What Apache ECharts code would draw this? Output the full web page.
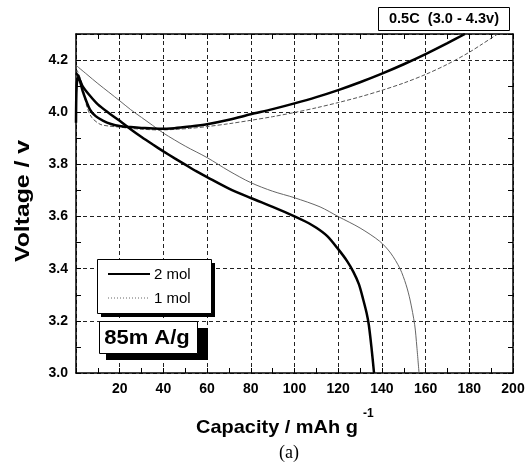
<!DOCTYPE html>
<html>
<head>
<meta charset="utf-8" />
<script src="https://cdn.jsdelivr.net/npm/echarts@6/dist/echarts.min.js"></script>
<style>
  html, body { margin: 0; padding: 0; background: #fff; }
  #chart { width: 528px; height: 468px; }
</style>
</head>
<body>
<div id="chart"></div>
<script>
// capacity (mAh/g) and voltage (V)
const charge2Cap = [0, 0.3, 1, 3.3, 6.4, 9, 12.5, 16, 20, 25, 30, 38, 45, 52, 60, 70, 80, 90, 100, 110, 120, 130, 140, 150, 160, 170, 178];
const charge2V = [3.96, 4.10, 4.135, 4.075, 4.01, 3.985, 3.967, 3.955, 3.947, 3.943, 3.94, 3.937, 3.939, 3.945, 3.954, 3.971, 3.992, 4.012, 4.034, 4.058, 4.085, 4.115, 4.148, 4.184, 4.223, 4.265, 4.30];

const charge1Cap = [0, 0.5, 2.6, 4.9, 7.2, 11, 15, 20, 25, 30, 38, 45, 52, 60, 70, 80, 90, 100, 110, 120, 130, 140, 150, 160, 170, 180, 186, 193];
const charge1V = [3.97, 4.16, 4.114, 4.024, 3.98, 3.954, 3.947, 3.943, 3.938, 3.935, 3.932, 3.934, 3.938, 3.945, 3.956, 3.969, 3.983, 3.999, 4.017, 4.037, 4.059, 4.084, 4.112, 4.145, 4.184, 4.23, 4.262, 4.30];

const discharge2Cap = [0, 1, 3, 6.4, 10, 15, 20, 25, 30, 35, 40, 45, 50, 55, 60, 70, 80, 90, 100, 105, 110, 115, 120, 124, 127, 129.5, 131.5, 133, 134, 135.2, 136.4];
const discharge2V = [4.15, 4.14, 4.10, 4.063, 4.03, 3.997, 3.967, 3.935, 3.905, 3.877, 3.85, 3.824, 3.799, 3.774, 3.751, 3.707, 3.671, 3.637, 3.601, 3.581, 3.557, 3.525, 3.475, 3.43, 3.387, 3.34, 3.28, 3.23, 3.185, 3.10, 3.0];

const discharge1Cap = [0, 5, 10, 15, 20, 25, 30, 35, 40, 50, 60, 70, 80, 90, 100, 111.7, 120, 130, 139, 144, 148.3, 151, 152.9, 155, 156, 157];
const discharge1V = [4.18, 4.145, 4.11, 4.077, 4.044, 4.01, 3.98, 3.95, 3.92, 3.87, 3.826, 3.775, 3.73, 3.697, 3.672, 3.637, 3.600, 3.556, 3.505, 3.46, 3.40, 3.34, 3.28, 3.185, 3.1, 3.0];

const legendNames = ["2 mol", "1 mol"];

function pairs(xs, ys) {
  return xs.map((x, i) => [x, ys[i]]);
}

const font = "Liberation Sans";
const chart = echarts.init(document.getElementById("chart"));

// shared look for the frame axes (ticks point inward)
function frameAxis(extra) {
  return Object.assign({
    type: "value",
    axisLine: { show: true, onZero: false, lineStyle: { color: "#000", width: 1.5 } },
    axisTick: { show: true, inside: true, length: 5, lineStyle: { color: "#000" } },
    minorTick: { show: true, splitNumber: 2, length: 5, lineStyle: { color: "#000" } },
    splitLine: { show: false },
    axisLabel: { show: false },
  }, extra);
}

const gridLine = { show: true, lineStyle: { color: "#222", width: 1, type: [4, 3] } };

function curve(name, xs, ys, lineStyle) {
  return {
    name: name, type: "line", showSymbol: false, smooth: 0.3,
    data: pairs(xs, ys),
    lineStyle: lineStyle,
  };
}

chart.setOption({
  animation: false,
  backgroundColor: "#fff",
  grid: { left: 76, right: 15, top: 34, bottom: 95 },
  xAxis: [
    frameAxis({
      position: "bottom", min: 0, max: 200, interval: 20,
      splitLine: gridLine,
      axisLabel: {
        show: true, showMinLabel: false, margin: 9,
        color: "#000", fontFamily: font, fontWeight: "bold", fontSize: 14,
      },
    }),
    frameAxis({ position: "top", min: 0, max: 200, interval: 20 }),
  ],
  yAxis: [
    frameAxis({
      position: "left", min: 3.0, max: 4.3, interval: 0.2,
      splitLine: gridLine,
      axisLabel: {
        show: true, showMaxLabel: false, margin: 8,
        color: "#000", fontFamily: font, fontWeight: "bold", fontSize: 14,
        formatter: (v) => v.toFixed(1),
      },
    }),
    frameAxis({ position: "right", min: 3.0, max: 4.3, interval: 0.2 }),
  ],
  series: [
    curve(legendNames[1], discharge1Cap, discharge1V, { color: "#666", width: 1 }),
    curve(legendNames[1], charge1Cap, charge1V, { color: "#555", width: 1, type: [4, 2] }),
    curve(legendNames[0], discharge2Cap, discharge2V, { color: "#000", width: 2.5 }),
    curve(legendNames[0], charge2Cap, charge2V, { color: "#000", width: 2.5 }),
  ],
  graphic: [
    // axis titles
    {
      type: "text", x: 277, y: 428, scaleX: 1.05,
      style: { text: "Capacity / mAh g", fontFamily: font, fontWeight: "bold", fontSize: 19, fill: "#000", align: "center", verticalAlign: "middle" },
    },
    {
      type: "text", x: 363, y: 414,
      style: { text: "-1", fontFamily: font, fontWeight: "bold", fontSize: 12, fill: "#000", align: "left", verticalAlign: "middle" },
    },
    {
      type: "text", x: 289, y: 453,
      style: { text: "(a)", fontFamily: "Liberation Serif", fontSize: 18, fill: "#000", align: "center", verticalAlign: "middle" },
    },
    {
      type: "text", x: 23, y: 201, rotation: Math.PI / 2, scaleX: 1.18,
      style: { text: "Voltage / v", fontFamily: font, fontWeight: "bold", fontSize: 21, fill: "#000", align: "center", verticalAlign: "middle" },
    },
    // rate box, top right
    {
      type: "rect", shape: { x: 378.5, y: 7.5, width: 131, height: 23 },
      style: { fill: "#fff", stroke: "#000", lineWidth: 1 },
    },
    {
      type: "text", x: 444, y: 19, scaleX: 1.04,
      style: { text: "0.5C  (3.0 - 4.3v)", fontFamily: font, fontWeight: "bold", fontSize: 14, fill: "#000", align: "center", verticalAlign: "middle" },
    },
    // legend box with shadow
    { type: "rect", z: 10, shape: { x: 101, y: 263, width: 114, height: 54 }, style: { fill: "#000" } },
    {
      type: "rect", z: 11, shape: { x: 97.5, y: 259.5, width: 114, height: 54 },
      style: { fill: "#fff", stroke: "#000", lineWidth: 1 },
    },
    { type: "line", z: 12, shape: { x1: 108, y1: 274, x2: 150, y2: 274 }, style: { stroke: "#000", lineWidth: 2 } },
    {
      type: "text", z: 12, x: 154, y: 275,
      style: { text: legendNames[0], fontFamily: font, fontSize: 15, fill: "#000", align: "left", verticalAlign: "middle" },
    },
    { type: "line", z: 12, shape: { x1: 108, y1: 298, x2: 150, y2: 298 }, style: { stroke: "#666", lineWidth: 1, lineDash: [1, 2] } },
    {
      type: "text", z: 12, x: 154, y: 299,
      style: { text: legendNames[1], fontFamily: font, fontSize: 15, fill: "#000", align: "left", verticalAlign: "middle" },
    },
    // current density box with shadow
    { type: "rect", z: 10, shape: { x: 106, y: 328, width: 102, height: 32 }, style: { fill: "#000" } },
    {
      type: "rect", z: 11, shape: { x: 99.5, y: 321.5, width: 98, height: 32 },
      style: { fill: "#fff", stroke: "#000", lineWidth: 1 },
    },
    {
      type: "text", z: 12, x: 147, y: 338, scaleX: 1.1,
      style: { text: "85m A/g", fontFamily: font, fontWeight: "bold", fontSize: 20, fill: "#000", align: "center", verticalAlign: "middle" },
    },
  ],
});
</script>
</body>
</html>
